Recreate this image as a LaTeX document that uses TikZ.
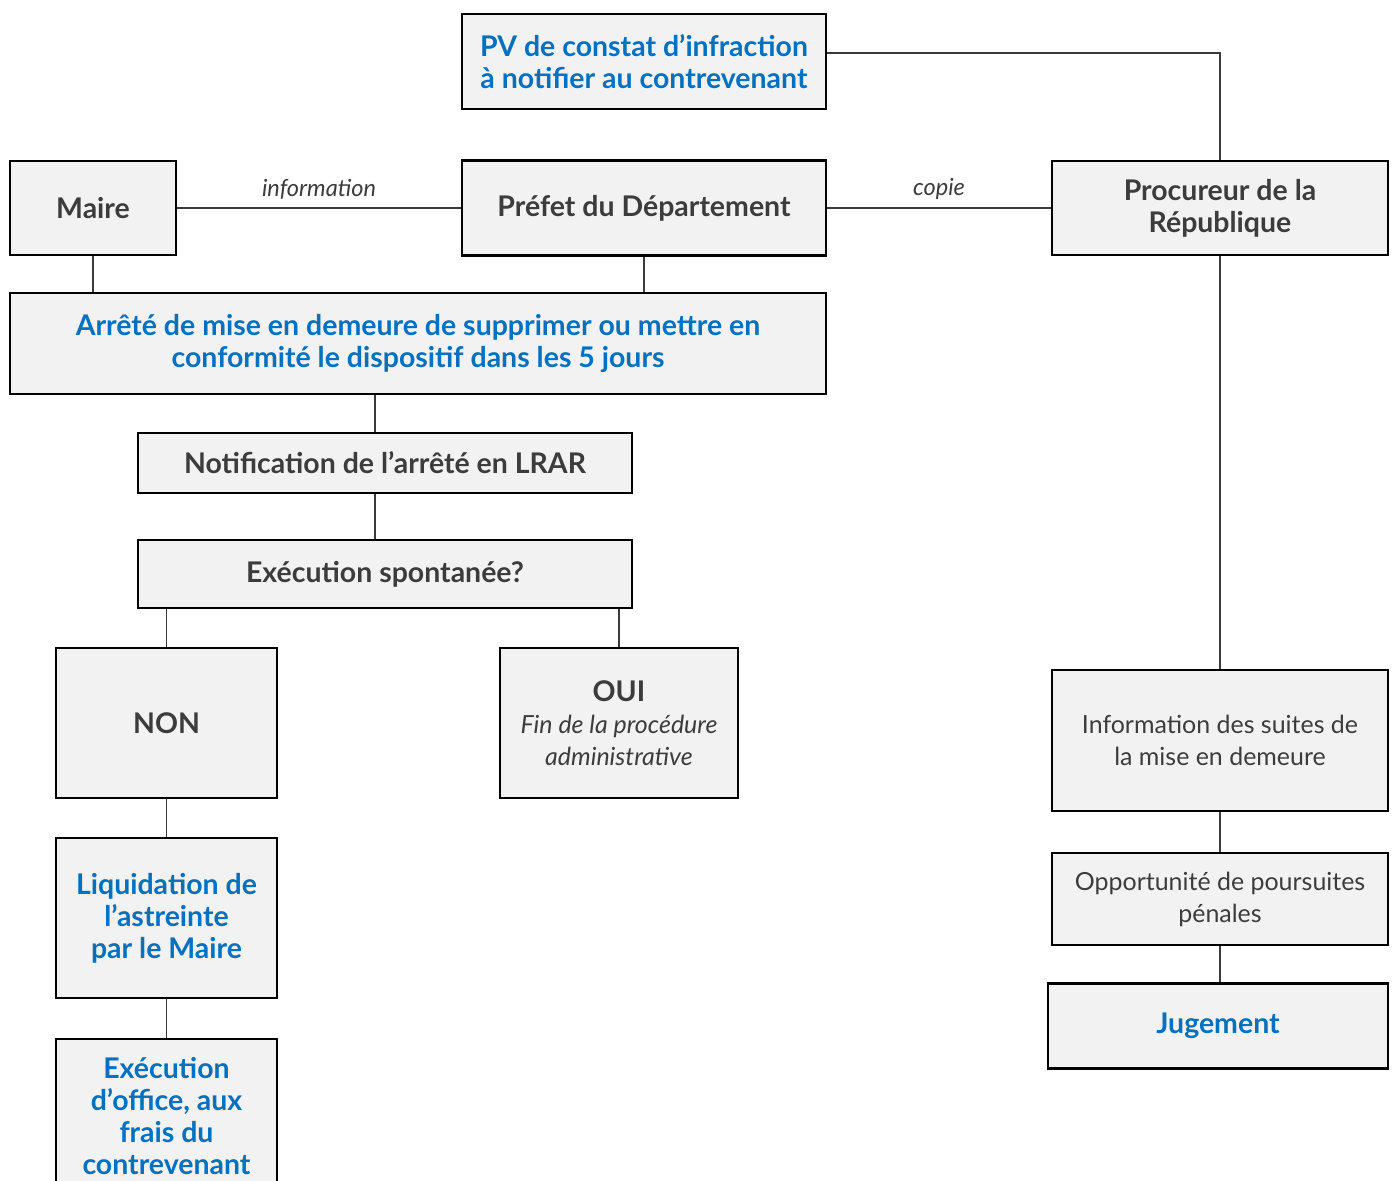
\documentclass[tikz,border=0pt]{standalone}
\usepackage{fontspec}
\setmainfont{Lato}
\usepackage{tikz}
\definecolor{boxfill}{HTML}{F2F2F2}
\definecolor{txtgray}{HTML}{3C3C3C}
\definecolor{txtblue}{HTML}{0070C0}
\definecolor{linegray}{HTML}{3A3A3A}
\tikzset{
  box/.style={draw=black, line width=1.6pt, fill=boxfill, align=center, inner sep=2pt,
    font=\fontsize{16.2}{18.2}\selectfont\bfseries, text=txtgray},
  bluebox/.style={box, text=txtblue},
  plainbox/.style={box, font=\fontsize{14.2}{18.2}\selectfont},
  link/.style={draw=linegray, line width=0.6pt},
  linklabel/.style={font=\fontsize{13.4}{15}\selectfont\itshape, text=txtgray}
}
\newcommand{\itlight}{\fontsize{14.2}{18.2}\selectfont\mdseries\itshape}

\begin{document}
\begin{tikzpicture}[x=0.02cm, y=-0.02cm]
  \useasboundingbox (0,0) rectangle (1392,1180);
  \clip (0,0) rectangle (1392,1180);

  \node[bluebox, minimum width=7.28cm, minimum height=1.90cm] (pv) at (644,61.5)
    {PV de constat d’infraction\\à notifier au contrevenant};
  \node[box, minimum width=3.32cm, minimum height=1.88cm] (maire) at (93,208) {Maire};
  \node[box, minimum width=7.28cm, minimum height=1.90cm] (prefet) at (644,208) {Préfet du Département};
  \node[box, minimum width=6.72cm, minimum height=1.88cm] (proc) at (1220,208) {Procureur de la\\République};
  \node[bluebox, minimum width=16.32cm, minimum height=2.02cm] (arrete) at (418,343.5)
    {Arrêté de mise en demeure de supprimer ou mettre en\\conformité le dispositif dans les 5 jours};
  \node[box, minimum width=9.88cm, minimum height=1.20cm] (notif) at (385,463) {Notification de l’arrêté en LRAR};
  \node[box, minimum width=9.88cm, minimum height=1.36cm] (exec) at (385,574) {Exécution spontanée?};
  \node[box, minimum width=4.42cm, minimum height=3.00cm] (non) at (166.5,723) {NON};
  \node[box, minimum width=4.76cm, minimum height=3.00cm] (oui) at (619,723)
    {OUI\\{\itlight Fin de la procédure}\\{\itlight administrative}};
  \node[bluebox, minimum width=4.42cm, minimum height=3.20cm] (liquid) at (166.5,918)
    {Liquidation de\\l’astreinte\\par le Maire};
  \node[bluebox, minimum width=4.42cm, minimum height=3.08cm] (office) at (166.5,1116)
    {Exécution\\d’office, aux\\frais du\\contrevenant};
  \node[plainbox, minimum width=6.72cm, minimum height=2.82cm] (suites) at (1220,740.5)
    {Information des suites de\\la mise en demeure};
  \node[plainbox, minimum width=6.72cm, minimum height=1.84cm] (oppo) at (1220,899)
    {Opportunité de poursuites\\pénales};
  \node[bluebox, minimum width=6.80cm, minimum height=1.70cm] (juge) at (1218,1026) {Jugement};

  \draw[link] ([yshift=0.17cm]pv.east) -| (proc.north);
  \draw[link] (maire.east) -- node[linklabel, above=1pt] {information} (prefet.west);
  \draw[link] (prefet.east) -- node[linklabel, above=1pt] {copie} (proc.west);
  \draw[link] (maire.south) -- (maire.south |- arrete.north);
  \draw[link] (prefet.south) -- (prefet.south |- arrete.north);
  \draw[link] ([xshift=-0.2cm]notif.north |- arrete.south) -- ([xshift=-0.2cm]notif.north);
  \draw[link] ([xshift=-0.2cm]notif.south) -- ([xshift=-0.2cm]notif.south |- exec.north);
  \draw[link] (non.north |- exec.south) -- (non.north);
  \draw[link] (oui.north |- exec.south) -- (oui.north);
  \draw[link] (non.south) -- (liquid.north);
  \draw[link] (liquid.south) -- (office.north);
  \draw[link] (proc.south) -- (suites.north);
  \draw[link] (suites.south) -- (oppo.north);
  \draw[link] (oppo.south) -- (oppo.south |- juge.north);
\end{tikzpicture}
\end{document}
